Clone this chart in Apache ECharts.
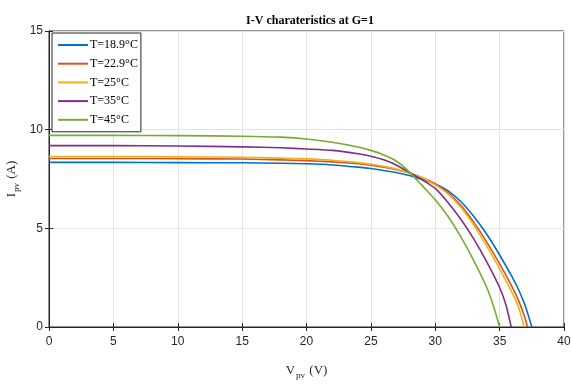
<!DOCTYPE html>
<html>
<head>
<meta charset="utf-8">
<script src="https://cdn.jsdelivr.net/npm/echarts@6/dist/echarts.min.js"></script>
<style>
  html, body { margin: 0; padding: 0; background: #fff; }
  #main { width: 571px; height: 385px; }
</style>
</head>
<body>
<div id="main"></div>
<script>
// I-V curves, [V, I]
var names = ['T=18.9°C', 'T=22.9°C', 'T=25°C', 'T=35°C', 'T=45°C'];
var colors = ['#0072BD', '#D95319', '#EDB120', '#7E2F8E', '#77AC30'];

var t189 = [[0, 8.34], [5, 8.34], [10, 8.33], [15, 8.32], [18, 8.3], [20, 8.27], [22, 8.21], [24, 8.1], [25, 8.03],
  [26, 7.93], [27, 7.82], [28, 7.68], [29, 7.48], [30, 7.25], [31, 6.9], [32, 6.35], [33, 5.6], [34, 4.7],
  [35, 3.65], [36, 2.5], [36.5, 1.85], [37, 1.05], [37.5, 0]];
var t229 = [[0, 8.54], [5, 8.54], [10, 8.53], [15, 8.51], [18, 8.47], [20, 8.43], [22, 8.37], [24, 8.27], [25, 8.2],
  [26, 8.1], [27, 7.97], [28, 7.8], [29, 7.56], [30, 7.25], [31, 6.8], [32, 6.15], [33, 5.3], [34, 4.3],
  [35, 3.2], [36, 2.0], [36.5, 1.3], [37, 0.4], [37.15, 0]];
var t25 = [[0, 8.64], [5, 8.64], [10, 8.63], [15, 8.6], [18, 8.56], [20, 8.52], [22, 8.45], [24, 8.33], [25, 8.25],
  [26, 8.14], [27, 8.0], [28, 7.81], [29, 7.55], [30, 7.2], [31, 6.73], [32, 6.05], [33, 5.15], [34, 4.1],
  [35, 2.95], [36, 1.7], [36.5, 0.95], [36.9, 0]];
var t35 = [[0, 9.19], [5, 9.19], [10, 9.17], [15, 9.13], [18, 9.08], [20, 9.02], [22, 8.95], [24, 8.78], [25, 8.65],
  [26, 8.47], [27, 8.2], [28, 7.83], [29, 7.45], [30, 7.02], [31, 6.3], [32, 5.45], [33, 4.45], [34, 3.3],
  [35, 2.0], [35.5, 1.1], [35.9, 0]];
var t45 = [[0, 9.71], [5, 9.71], [10, 9.7], [15, 9.67], [18, 9.62], [20, 9.53], [22, 9.36], [24, 9.12], [25, 8.95],
  [26, 8.72], [27, 8.4], [28, 7.85], [29, 7.15], [30, 6.45], [31, 5.6], [32, 4.55], [33, 3.35], [34, 2.0],
  [34.5, 1.1], [35, 0]];
var curves = [t189, t229, t25, t35, t45];

var chart = echarts.init(document.getElementById('main'));

var tickFont = { color: '#262626', fontFamily: 'Liberation Sans', fontSize: 12 };
var nameRich = {
  a: { fontFamily: 'Liberation Serif', fontSize: 13, color: '#262626' },
  b: { fontFamily: 'Liberation Serif', fontSize: 9, color: '#262626', padding: [10, 1, 0, 1] }
};

chart.setOption({
  backgroundColor: '#fff',
  animation: false,
  color: colors,
  title: {
    text: 'I-V charateristics at G=1',
    left: 305,
    textAlign: 'center',
    top: 10,
    textStyle: { fontFamily: 'Liberation Serif', fontWeight: 'bold', fontSize: 12, color: '#000' }
  },
  legend: {
    data: names,
    orient: 'vertical',
    left: 52,
    top: 33,
    itemWidth: 30,
    itemHeight: 14,
    itemGap: 4.7,
    padding: [5, 3, 5, 5],
    backgroundColor: '#fff',
    borderColor: '#262626',
    borderWidth: 1,
    borderRadius: 0,
    itemStyle: { opacity: 0 },
    textStyle: { fontFamily: 'Liberation Serif', fontSize: 12, color: '#000', lineHeight: 14, padding: [0, 0, 0, -3] }
  },
  grid: {
    left: 49, right: 7, top: 31, bottom: 58,
    outerBoundsMode: 'none',
    containLabel: false,
    show: true, borderColor: '#262626', borderWidth: 1
  },
  xAxis: [{
    type: 'value', min: 0, max: 40, interval: 5,
    name: '{a|V}{b|pv}{a| (V)}',
    nameLocation: 'middle', nameGap: 34,
    nameTextStyle: { rich: nameRich },
    axisLine: { show: true, lineStyle: { color: '#262626' } },
    axisTick: { show: true, inside: true, length: 4, lineStyle: { color: '#262626' } },
    axisLabel: Object.assign({ margin: 9 }, tickFont),
    splitLine: { show: true, lineStyle: { color: '#e3e3e3' } }
  }, {
    type: 'value', min: 0, max: 40, interval: 5, position: 'top',
    axisLine: { show: false },
    axisTick: { show: true, inside: true, length: 4, lineStyle: { color: '#262626' } },
    axisLabel: { show: false },
    splitLine: { show: false }
  }],
  yAxis: [{
    type: 'value', min: 0, max: 15, interval: 5,
    name: '{a|I}{b|pv}{a| (A)}',
    nameLocation: 'middle', nameGap: 28,
    nameMoveOverlap: false,
    nameTextStyle: { rich: nameRich },
    axisLine: { show: true, lineStyle: { color: '#262626' } },
    axisTick: { show: true, inside: true, length: 4, lineStyle: { color: '#262626' } },
    axisLabel: Object.assign({ margin: 6 }, tickFont),
    splitLine: { show: true, lineStyle: { color: '#e3e3e3' } }
  }, {
    type: 'value', min: 0, max: 15, interval: 5, position: 'right',
    axisLine: { show: false },
    axisTick: { show: true, inside: true, length: 4, lineStyle: { color: '#262626' } },
    axisLabel: { show: false },
    splitLine: { show: false }
  }],
  series: curves.map(function (d, i) {
    return {
      name: names[i],
      type: 'line',
      data: d,
      smooth: 0.2,
      symbol: 'none',
      lineStyle: { width: 1.6, color: colors[i] },
      z: 2 + i
    };
  })
});
</script>
</body>
</html>
